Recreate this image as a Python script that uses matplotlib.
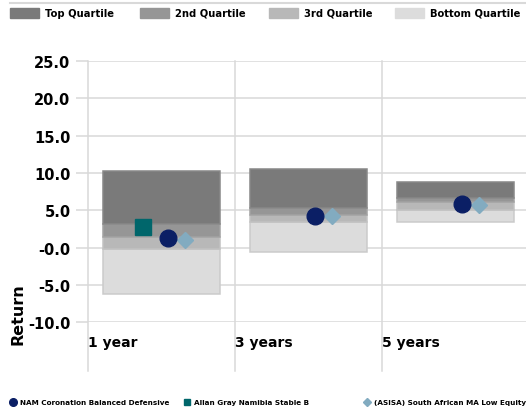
import matplotlib.pyplot as plt
from matplotlib.patches import Rectangle
from matplotlib.lines import Line2D

# data
periods = ['1 year', '3 years', '5 years']
worst = [-6.2, -0.55, 3.4]
lower_q = [-0.2, 3.45, 5.05]
median = [1.45, 4.35, 6.05]
upper_q = [3.15, 5.3, 6.7]
best = [10.3, 10.5, 8.8]

nam = [1.27, 4.2, 5.9]
allan = [2.7, None, None]
asisa = [1.05, 4.2, 5.7]

y_ticks = [-10, -5, 0, 5, 10, 15, 20, 25]
y_labels = ['-10.0', '-5.0', '-0.0', '5.0', '10.0', '15.0', '20.0', '25.0']

quartile_names = ['Top Quartile', '2nd Quartile', '3rd Quartile', 'Bottom Quartile']
quartile_colors = ['#7a7a7a', '#969696', '#b8b8b8', '#dcdcdc']
quartile_edges = ['#888888', '#a2a2a2', '#c2c2c2', '#cbcbcb']

series_names = ['NAM Coronation Balanced Defensive', 'Allan Gray Namibia Stable B',
                '(ASISA) South African MA Low Equity']
series_colors = ['#0b1f65', '#00666b', '#82abc0']

W, H = 526, 410
fig = plt.figure(figsize=(W / 100, H / 100), dpi=100)
ax = fig.add_axes([88 / W, 1 - 323.3 / H, (W - 88) / W, (323.3 - 62) / H])

grid_c = '#d9d9d9'
x = [i + 0.5 for i in range(len(periods))]
bw = 0.8

# floating stacked boxes: bottom -> top
segs = [(worst, lower_q), (lower_q, median), (median, upper_q), (upper_q, best)]
for k, (lo, hi) in enumerate(segs):
    ci = 3 - k
    h = [b - a for a, b in zip(lo, hi)]
    ax.bar(x, h, bottom=lo, width=bw, color=quartile_colors[ci],
           edgecolor=quartile_edges[ci], linewidth=1.1, zorder=2)

# markers
ax.plot([xi + 0.045 for xi in x], nam, 'o', color=series_colors[0], ms=12, zorder=4)
ax.plot([xi - 0.125 for xi, v in zip(x, allan) if v is not None],
        [v for v in allan if v is not None], 's', color=series_colors[1], ms=12, zorder=4)
ax.plot([xi + 0.16 for xi in x], asisa, 'D', color=series_colors[2], ms=8.3, zorder=3)

ax.set_ylim(-10, 25)
ax.set_xlim(0, (W - 88) / 147)
ax.set_yticks(y_ticks)
ax.set_yticklabels(y_labels, fontsize=10.5, fontweight='bold')
ax.yaxis.grid(True, color=grid_c, linewidth=1.1, zorder=0)
ax.tick_params(axis='y', length=8.6, width=1.1, color=grid_c, pad=4)
ax.set_axisbelow(True)

ax.set_xticks(range(len(periods)))
ax.set_xticklabels(periods, fontsize=10, fontweight='bold', ha='left')
ax.tick_params(axis='x', length=0, pad=9)
for i in range(len(periods)):
    ax.axvline(i, ymin=-49 / 261, ymax=1, color=grid_c, linewidth=1.1, clip_on=False, zorder=0)

for s in ax.spines.values():
    s.set_visible(False)

fig.text(18 / W, 1 - 314 / H, 'Return', rotation=90, ha='center', va='center',
         fontsize=11.5, fontweight='bold')

# top legend
fig.add_artist(Line2D([10 / W, 1], [1 - 4 / H] * 2, color=grid_c, linewidth=1.5))
leg_x = [10, 140, 269, 395]
for lx, name, col in zip(leg_x, quartile_names, quartile_colors):
    fig.add_artist(Rectangle((lx / W, 1 - 19 / H), 29 / W, 10 / H, color=col))
    fig.text((lx + 35) / W, 1 - 14 / H, name, ha='left', va='center',
             fontsize=7.2, fontweight='bold')

# bottom legend
mk = ['o', 's', 'D']
msz = [5.5, 5, 3.6]
bx = [13, 187, 367]
for lx, name, col, m, s in zip(bx, series_names, series_colors, mk, msz):
    fig.add_artist(Line2D([lx / W], [1 - 403 / H], marker=m, color=col, markersize=s,
                          linestyle='none'))
    fig.text((lx + 7) / W, 1 - 403 / H, name, ha='left', va='center',
             fontsize=5.2, fontweight='bold')

fig.savefig('out.png', dpi=100)
